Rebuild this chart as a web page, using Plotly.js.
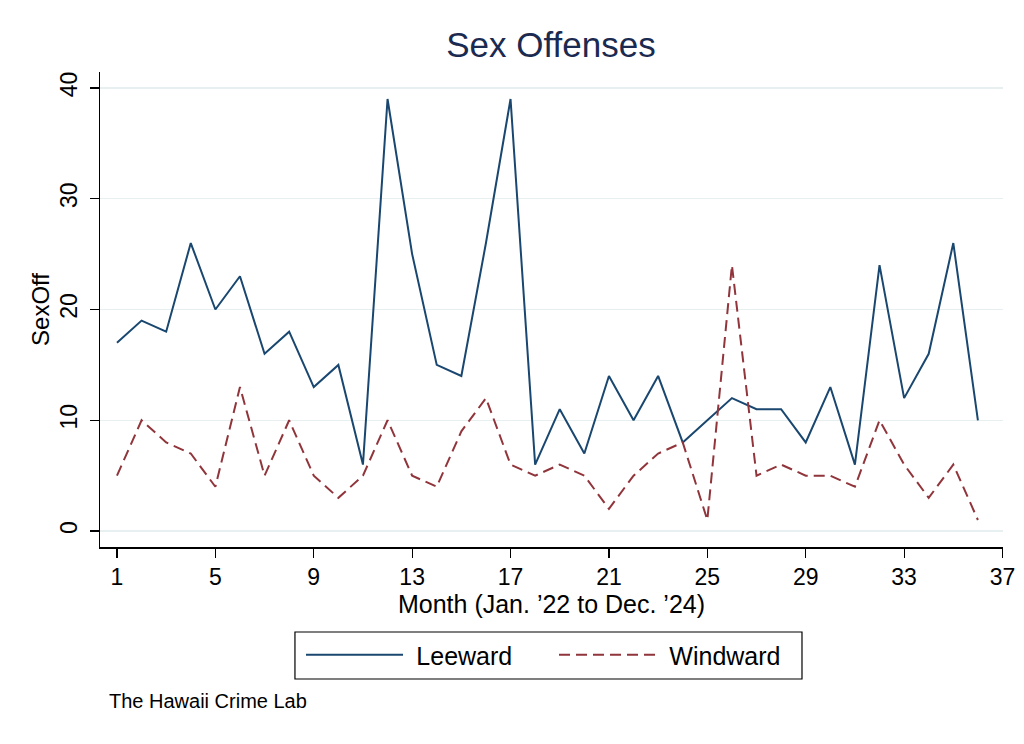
<!DOCTYPE html>
<html>
<head>
<meta charset="utf-8">
<script src="https://cdn.plot.ly/plotly-3.0.1.min.js"></script>
<style>html,body{margin:0;padding:0;background:#fff;}#chart{width:1024px;height:744px;}</style>
</head>
<body>
<div id="chart"></div>
<script>
const months = [1,2,3,4,5,6,7,8,9,10,11,12,13,14,15,16,17,18,19,20,21,22,23,24,25,26,27,28,29,30,31,32,33,34,35,36];
const leeward = [17,19,18,26,20,23,16,18,13,15,6,39,25,15,14,26,39,6,11,7,14,10,14,8,10,12,11,11,8,13,6,24,12,16,26,10];
const windward = [5,10,8,7,4,13,5,10,5,3,5,10,5,4,9,12,6,5,6,5,2,5,7,8,1,24,5,6,5,5,4,10,6,3,6,1];
const xTicks = [1,5,9,13,17,21,25,29,33,37];
const yTicks = [0,10,20,30,40];
const seriesNames = ["Leeward", "Windward"];

const FONT = "Liberation Sans, Arial, Helvetica, sans-serif";
const PAD = "\u2004";

const traces = [
  {x: months, y: leeward, name: PAD + seriesNames[0], type: "scatter", mode: "lines",
   line: {color: "#1a476f", width: 2}},
  {x: months, y: windward, name: PAD + seriesNames[1], type: "scatter", mode: "lines",
   line: {color: "#90353b", width: 2, dash: "11px,6px"}}
];

const layout = {
  width: 1024, height: 744,
  margin: {l: 100, r: 21, t: 72, b: 197},
  paper_bgcolor: "#fff", plot_bgcolor: "#fff",
  font: {family: FONT, color: "#000"},
  title: {text: "Sex Offenses", font: {size: 35, color: "#1a2a50", family: FONT},
          x: 0.538, xanchor: "center", y: 0.9395, yanchor: "middle"},
  xaxis: {
    range: [0.31, 37.02], tickvals: xTicks, ticktext: xTicks.map(String),
    ticks: "outside", ticklen: 9, tickwidth: 1.2, tickcolor: "#000",
    showline: true, linecolor: "#000", linewidth: 1.5,
    showgrid: false, zeroline: false,
    tickfont: {size: 23, color: "#000"},
    title: {text: "Month (Jan. ’22 to Dec. ’24)", font: {size: 25, color: "#000"}, standoff: 4}
  },
  yaxis: {
    range: [-1.44, 41.44], tickvals: yTicks, ticktext: yTicks.map(String),
    ticks: "outside", ticklen: 9, tickwidth: 1.2, tickcolor: "#000",
    showline: true, linecolor: "#000", linewidth: 1.5,
    showgrid: true, gridcolor: "#e8eff1", gridwidth: 1.5, zeroline: false,
    tickangle: -90, ticklabelstandoff: 3,
    tickfont: {size: 23, color: "#000"},
    title: {text: "SexOff", font: {size: 24, color: "#000"}, standoff: 0}
  },
  showlegend: true,
  legend: {orientation: "h", x: 0.2226, xanchor: "left", y: -0.179, yanchor: "top",
           borderwidth: 0, bgcolor: "rgba(0,0,0,0)",
           font: {size: 25, color: "#000"}, itemwidth: 97, tracegroupgap: 0,
           entrywidth: 141, entrywidthmode: "pixels"},
  shapes: [
    {type: "rect", xref: "paper", yref: "paper", x0: 0.2159, x1: 0.7774, y0: -0.1789, y1: -0.2779,
     line: {color: "#000", width: 1.2}, fillcolor: "rgba(0,0,0,0)", layer: "below"}
  ],
  annotations: [
    {text: "The Hawaii Crime Lab", xref: "paper", yref: "paper", x: 0.0078, y: -0.324,
     xanchor: "left", yanchor: "middle", showarrow: false, font: {size: 20, color: "#000"}}
  ]
};

Plotly.newPlot("chart", traces, layout, {displayModeBar: false, staticPlot: true});
</script>
</body>
</html>
